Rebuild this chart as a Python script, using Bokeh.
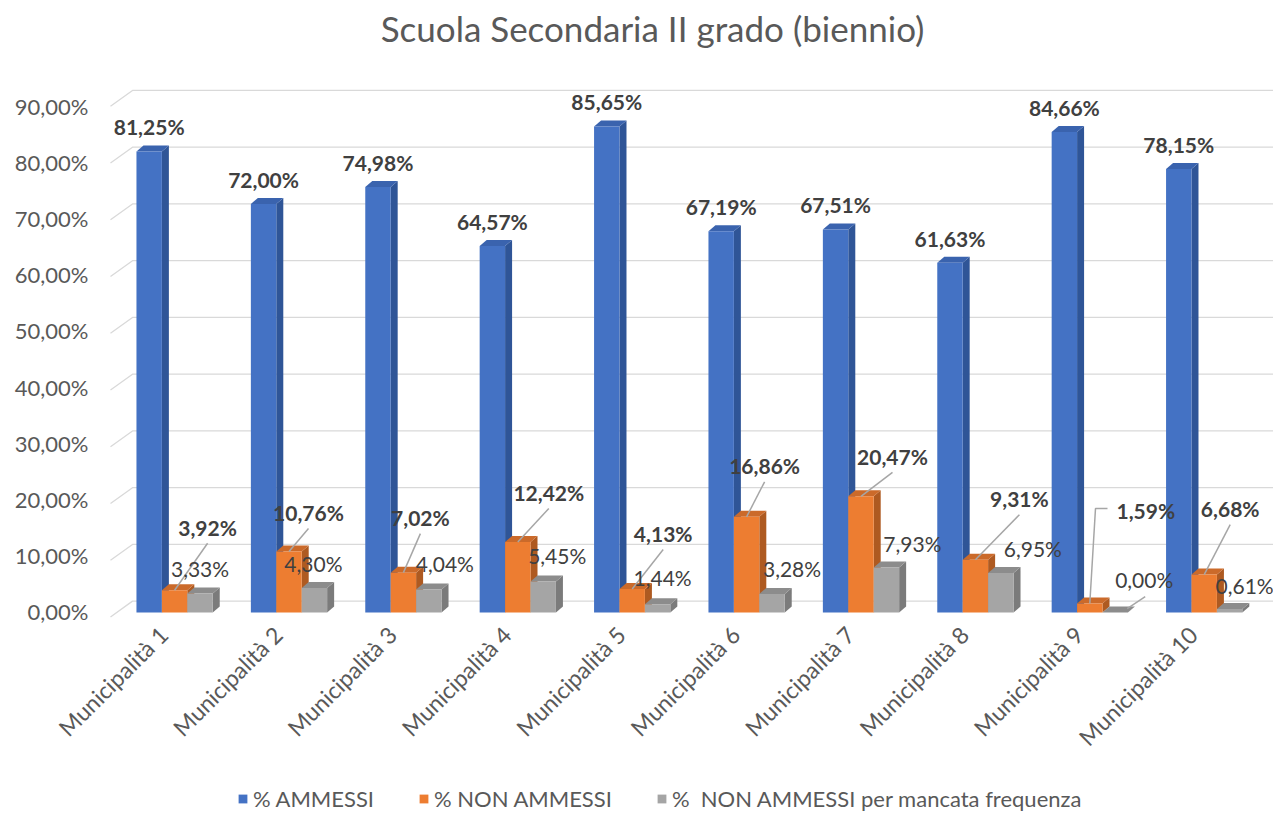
import math
from bokeh.plotting import figure
from bokeh.layouts import column
from bokeh.models import (Range1d, LinearAxis, FixedTicker, Legend, LegendItem,
                          CustomJSTickFormatter)
from bokeh.core.properties import value
from bokeh.embed import file_html
from bokeh.resources import INLINE

# ---------------- data ----------------
categories = ["Municipalità 1", "Municipalità 2", "Municipalità 3", "Municipalità 4",
              "Municipalità 5", "Municipalità 6", "Municipalità 7", "Municipalità 8",
              "Municipalità 9", "Municipalità 10"]
ammessi = [81.25, 72.00, 74.98, 64.57, 85.65, 67.19, 67.51, 61.63, 84.66, 78.15]
non_ammessi = [3.92, 10.76, 7.02, 12.42, 4.13, 16.86, 20.47, 9.31, 1.59, 6.68]
non_ammessi_freq = [3.33, 4.30, 4.04, 5.45, 1.44, 3.28, 7.93, 6.95, 0.00, 0.61]
series_labels = ["% AMMESSI", "% NON AMMESSI", "%  NON AMMESSI per mancata frequenza"]
y_ticks = [0, 10, 20, 30, 40, 50, 60, 70, 80, 90]
title_text = "Scuola Secondaria II grado (biennio)"

# ---------------- layout ----------------
W = 1273
H_TITLE, H, H_LEG = 70, 706, 36
ML, MR, MT, MB = 100, 0, 0, 154
X0, X1 = -0.6477, 9.6058
Y0, Y1 = -1.762, 95.51
PX_X = (W - ML - MR) / (X1 - X0)
PX_Y = (H - MT - MB) / (Y1 - Y0)

FONT = "Lato"
BAR_W = 2.0 / 9.0
DX = 7.0 / PX_X        # 3D depth offset (x)
DY = 6.0 / PX_Y        # 3D depth offset (y)

COLORS = [("#4472C4", "#2F5597", "#3A63AE"),
          ("#ED7D31", "#AE5A21", "#CB6A2A"),
          ("#A5A5A5", "#7B7B7B", "#8C8C8C")]

def fmt(v):
    return ("%.2f" % v).replace(".", ",") + "%"

def strip(height):
    f = figure(width=W, height=height, x_range=Range1d(0, 1), y_range=Range1d(0, height),
               output_backend="svg", toolbar_location=None, x_axis_location=None,
               y_axis_location=None, min_border=0, outline_line_color=None,
               background_fill_color="white", border_fill_color="white")
    f.xgrid.visible = False
    f.ygrid.visible = False
    f.title.visible = False
    return f

# ---------------- title strip ----------------
pt = strip(H_TITLE)
pt.text([(652 - ML) / (W - ML)], [H_TITLE - 27], text=[title_text], text_font=value(FONT),
        text_font_size="35px", text_color="#595959", text_align="center",
        text_baseline="middle")

# ---------------- main chart ----------------
p = figure(width=W, height=H, x_range=Range1d(X0, X1), y_range=Range1d(Y0, Y1),
           output_backend="svg", toolbar_location=None, y_axis_location=None,
           x_axis_location=None,
           min_border_left=ML, min_border_right=MR, min_border_top=MT,
           min_border_bottom=MB, outline_line_color=None,
           background_fill_color="white", border_fill_color="white")
p.xgrid.visible = False
p.ygrid.visible = False
p.title.visible = False

# y axis with label range (slight perspective offset)
lab0 = (Y0 - 0.176) * 90 / 88.98
lab1 = (Y1 - 0.176) * 90 / 88.98
p.extra_y_ranges = {"lab": Range1d(lab0, lab1)}
yax = LinearAxis(y_range_name="lab", ticker=FixedTicker(ticks=y_ticks),
                 formatter=CustomJSTickFormatter(code="return tick.toFixed(2).replace('.', ',') + '%';"))
yax.axis_line_color = None
yax.major_tick_line_color = None
yax.minor_tick_line_color = None
yax.major_tick_out = 0
yax.major_tick_in = 0
yax.minor_tick_out = 0
yax.major_label_text_font = FONT
yax.major_label_text_font_size = "22px"
yax.major_label_text_color = "#595959"
yax.major_label_standoff = 12
p.add_layout(yax, "left")

# x axis (category labels end slightly left of the group centre)
shift = 11.0 / PX_X
p.extra_x_ranges = {"cat": Range1d(X0 + shift, X1 + shift)}
xax = LinearAxis(x_range_name="cat", ticker=FixedTicker(ticks=list(range(len(categories)))))
xax.major_label_overrides = {i: c for i, c in enumerate(categories)}
xax.major_label_orientation = math.pi / 4
xax.axis_line_color = None
xax.major_tick_line_color = None
xax.minor_tick_line_color = None
xax.major_tick_out = 0
xax.major_tick_in = 0
xax.minor_tick_out = 0
xax.major_label_text_font = FONT
xax.major_label_text_font_size = "23px"
xax.major_label_text_color = "#595959"
xax.major_label_standoff = 8
p.add_layout(xax, "below")

# gridlines: diagonal side part + back wall
back_x = (132 - 174.1) / PX_X
front_x = (110 - 174.1) / PX_X
gx, gy = [], []
for t in y_ticks:
    gx.append([front_x, back_x, X1])
    gy.append([t - 0.8, t + 2.0, t + 2.0])
p.multi_line(gx, gy, line_color="#D9D9D9", line_width=1.3)

# bars
series = [(ammessi, -2.0 / 9.0), (non_ammessi, 0.0), (non_ammessi_freq, 2.0 / 9.0)]
for (vals, off), (cf, cs, ct) in zip(series, COLORS):
    lefts = [i + off - BAR_W / 2 for i in range(len(vals))]
    rights = [i + off + BAR_W / 2 for i in range(len(vals))]
    sxs = [[r, r + DX, r + DX, r] for r in rights]
    sys_ = [[0, DY, v + DY, v] for v in vals]
    p.patches(sxs, sys_, fill_color=cs, line_color=None)
    txs = [[l, r, r + DX, l + DX] for l, r in zip(lefts, rights)]
    tys = [[v, v, v + DY, v + DY] for v in vals]
    p.patches(txs, tys, fill_color=ct, line_color=None)
    p.quad(left=lefts, right=rights, bottom=[0] * len(vals), top=vals,
           fill_color=cf, line_color=None)

# label placements (pixel offsets from bar top centre)
orange_off = [(33, -63), (19.5, -39), (17, -55), (31, -49.5), (31, -55.6),
              (18, -51), (31.5, -40), (44, -61), (56, -93), (26, -66)]
gray_off = [(0, -25), (-1, -25), (16, -26), (14, -26), (5, -27),
            (20, -25), (26, -24), (32, -25), (29, -33), (15, -23.5)]

def to_data(x, y, ox, oy):
    return x + ox / PX_X, y - oy / PX_Y

# leader lines
lx, ly = [], []
for i, v in enumerate(non_ammessi):
    if i == 8:
        pts = [(0, 0), (5.7, -95), (17.7, -95)]
    else:
        ox, oy = orange_off[i]
        pts = [(0, 0), (ox, oy + 16)]
    xs, ys = [], []
    for ox, oy in pts:
        a, b = to_data(i, v, ox, oy)
        xs.append(a); ys.append(b)
    lx.append(xs); ly.append(ys)
gx9, gy9 = [], []
for ox, oy in [(12, -4), (30, -16)]:
    a, b = to_data(8 + 2.0 / 9.0, non_ammessi_freq[8], ox, oy)
    gx9.append(a); gy9.append(b)
lx.append(gx9); ly.append(gy9)
p.multi_line(lx, ly, line_color="#A6A6A6", line_width=1.5)

# data labels
bx = [i - 2.0 / 9.0 for i in range(len(ammessi))]
by = [v + 24.5 / PX_Y for v in ammessi]
p.text(bx, by, text=[fmt(v) for v in ammessi], text_font=value(FONT),
       text_font_size="21px", text_font_style="bold", text_color="#404040",
       text_align="center", text_baseline="middle")

ox_, oy_ = [], []
for i, v in enumerate(non_ammessi):
    a, b = to_data(i, v, *orange_off[i])
    ox_.append(a); oy_.append(b)
p.text(ox_, oy_, text=[fmt(v) for v in non_ammessi], text_font=value(FONT),
       text_font_size="21px", text_font_style="bold", text_color="#404040",
       text_align="center", text_baseline="middle")

gx_, gy_ = [], []
for i, v in enumerate(non_ammessi_freq):
    a, b = to_data(i + 2.0 / 9.0, v, *gray_off[i])
    gx_.append(a); gy_.append(b)
p.text(gx_, gy_, text=[fmt(v) for v in non_ammessi_freq], text_font=value(FONT),
       text_font_size="21px", text_font_style="normal", text_color="#404040",
       text_align="center", text_baseline="middle")

# ---------------- legend strip ----------------
pl = strip(H_LEG)
# the swatch-source bars are kept entirely out of the strip's view
pl.x_range = Range1d(-30, -29)
pl.y_range = Range1d(-30, -29)
leg_r = []
for (vals, off), c in zip(series, COLORS):
    leg_r.append(pl.vbar(x=[i + off for i in range(len(vals))], top=vals, bottom=0,
                         width=BAR_W, fill_color=c[0], line_color=None))
legend = Legend(items=[LegendItem(label=series_labels[k], renderers=[leg_r[k]])
                       for k in range(3)],
                orientation="horizontal", location=(137, 0),
                label_text_font=FONT, label_text_font_size="22px",
                label_text_color="#595959", glyph_width=11, glyph_height=11,
                label_standoff=5, spacing=44, padding=0, margin=0,
                border_line_color=None, background_fill_alpha=0)
pl.add_layout(legend, "center")

lay = column(pt, p, pl, spacing=0)
open("out.html", "w").write(file_html(lay, INLINE))
